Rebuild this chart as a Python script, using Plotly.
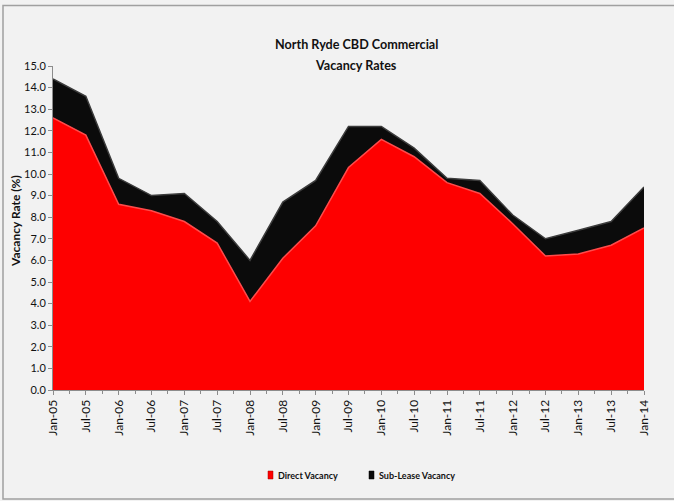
import plotly.graph_objects as go

# Half-yearly survey periods
periods = ["Jan-05", "Jul-05", "Jan-06", "Jul-06", "Jan-07", "Jul-07", "Jan-08",
           "Jul-08", "Jan-09", "Jul-09", "Jan-10", "Jul-10", "Jan-11", "Jul-11",
           "Jan-12", "Jul-12", "Jan-13", "Jul-13", "Jan-14"]

# Vacancy rates (%)
direct_vacancy = [12.6, 11.8, 8.6, 8.3, 7.8, 6.8, 4.1, 6.1, 7.6, 10.3, 11.6,
                  10.8, 9.6, 9.1, 7.7, 6.2, 6.3, 6.7, 7.5]
sublease_vacancy = [1.8, 1.8, 1.2, 0.7, 1.3, 1.0, 1.9, 2.6, 2.1, 1.9, 0.6,
                    0.4, 0.2, 0.6, 0.4, 0.8, 1.1, 1.1, 1.9]

y_ticks = [i for i in range(16)]

W, H = 674, 501
M_L, M_R, M_T, M_B = 53, 30, 66, 111
PW, PH = W - M_L - M_R, H - M_T - M_B

def px_x(px):
    return (px - M_L) / PW

def px_y(py):
    return (H - M_B - py) / PH

FONT = "Lato, Roboto, Arial, sans-serif"
RED = "#fe0000"
BLACK = "#0b0b0b"
AXIS = "#8c8c8c"
TXT = "#111111"

x = list(range(len(periods)))

fig = go.Figure()
fig.add_trace(go.Scatter(
    x=x, y=direct_vacancy, name="Direct Vacancy", stackgroup="vac",
    mode="lines", line=dict(color="#ff4a4a", width=1.5),
    fillcolor=RED, showlegend=False, hoverinfo="skip"))
fig.add_trace(go.Scatter(
    x=x, y=sublease_vacancy, name="Sub-Lease Vacancy", stackgroup="vac",
    mode="lines", line=dict(color="#3c3c3c", width=1.5),
    fillcolor=BLACK, showlegend=False, hoverinfo="skip"))

shapes = [
    # outer chart frame
    dict(type="rect", xref="paper", yref="paper",
         x0=px_x(3), x1=px_x(W + 20), y0=px_y(499), y1=px_y(5.5),
         line=dict(color="#a0a0a0", width=1.5), fillcolor="rgba(0,0,0,0)",
         layer="below"),
    # legend swatches
    dict(type="rect", xref="paper", yref="paper",
         x0=px_x(268), x1=px_x(273), y0=px_y(479), y1=px_y(471),
         line=dict(color="#a00000", width=0.5), fillcolor=RED),
    dict(type="rect", xref="paper", yref="paper",
         x0=px_x(369), x1=px_x(374), y0=px_y(479), y1=px_y(471),
         line=dict(color="#000000", width=0.5), fillcolor=BLACK),
]

title_lines = ["North Ryde CBD Commercial", "Vacancy Rates"]
title_rows = [45, 65]

annotations = [
    dict(text=f"<b>{line}</b>", xref="paper", yref="paper",
         x=px_x(356), y=px_y(row), xanchor="center", yanchor="middle",
         showarrow=False, font=dict(family=FONT, size=12.6, color=TXT))
    for line, row in zip(title_lines, title_rows)
] + [
    dict(text="<b>Vacancy Rate (%)</b>", textangle=-90,
         xref="paper", yref="paper", x=px_x(15), y=px_y(221),
         xanchor="center", yanchor="middle", showarrow=False,
         font=dict(family=FONT, size=12, color=TXT)),
    dict(text="<b>Direct Vacancy</b>", xref="paper", yref="paper",
         x=px_x(276), y=px_y(475), xanchor="left", yanchor="middle",
         showarrow=False, font=dict(family=FONT, size=9, color=TXT)),
    dict(text="<b>Sub-Lease Vacancy</b>", xref="paper", yref="paper",
         x=px_x(377), y=px_y(475), xanchor="left", yanchor="middle",
         showarrow=False, font=dict(family=FONT, size=9, color=TXT)),
]

fig.update_layout(
    width=W, height=H,
    margin=dict(l=M_L, r=M_R, t=M_T, b=M_B, pad=0),
    paper_bgcolor="#f2f2f2", plot_bgcolor="rgba(0,0,0,0)",
    showlegend=False,
    shapes=shapes, annotations=annotations,
    font=dict(family=FONT, size=11, color=TXT),
)

fig.update_xaxes(
    range=[0, len(periods) - 1], tickmode="array", tickvals=x, ticktext=periods,
    tickangle=-90, tickfont=dict(family=FONT, size=12, color=TXT),
    showline=True, linecolor=AXIS, linewidth=1,
    ticks="outside", ticklen=4, tickcolor=AXIS,
    minor=dict(tickmode="linear", tick0=0, dtick=0.5, ticks="outside",
               ticklen=3, tickcolor=AXIS),
    showgrid=False, zeroline=False, fixedrange=True,
)
fig.update_yaxes(
    range=[0, 15], tickmode="array", tickvals=y_ticks, tickformat=".1f",
    tickfont=dict(family=FONT, size=11, color=TXT),
    showline=True, linecolor=AXIS, linewidth=1,
    ticks="outside", ticklen=4, tickcolor=AXIS,
    showgrid=False, zeroline=False, fixedrange=True,
)

fig.write_html("out.html")
